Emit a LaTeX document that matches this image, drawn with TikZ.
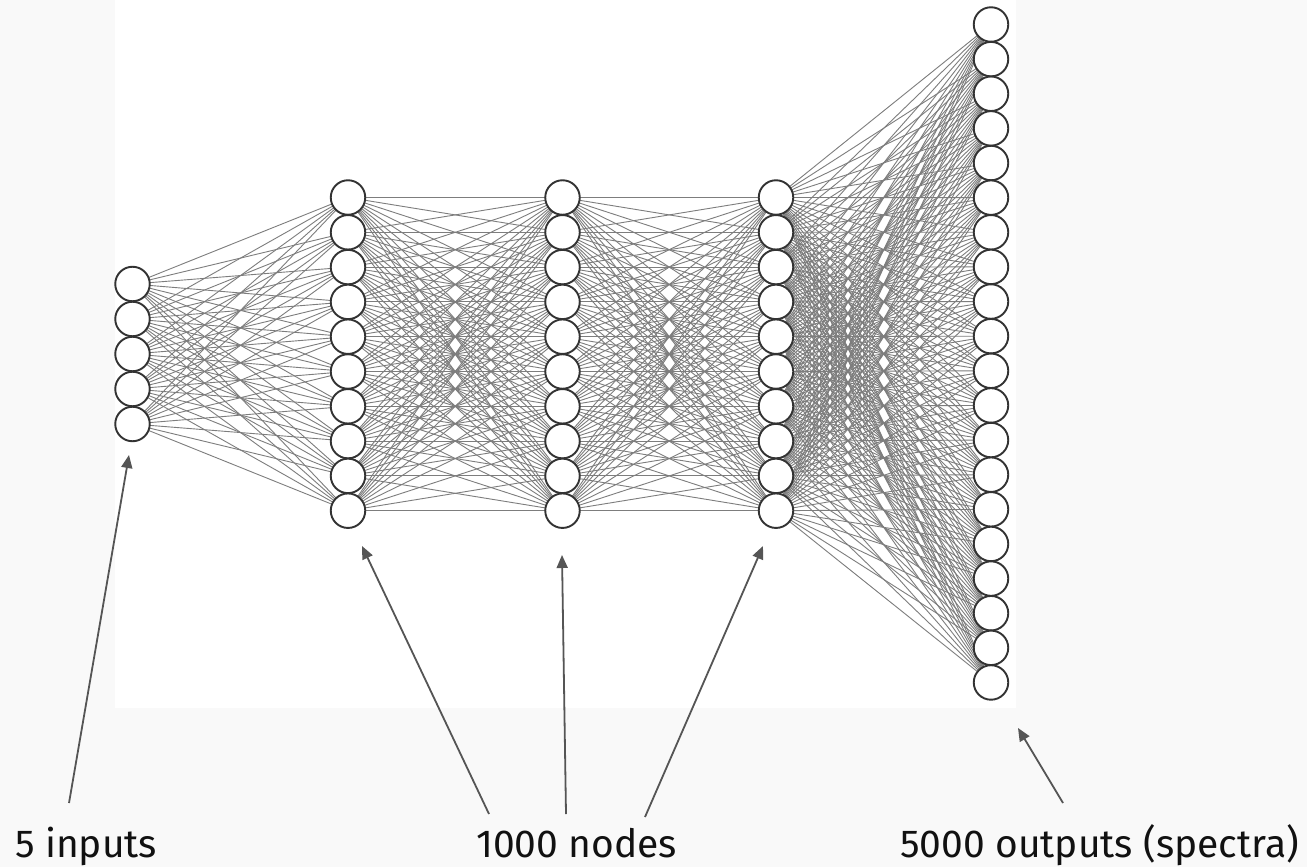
\documentclass[tikz,border=0pt]{standalone}
\usepackage{fontspec}
\setmainfont{Fira Sans}
\usetikzlibrary{arrows.meta,backgrounds}
\definecolor{pagebg}{RGB}{249,249,249}
\definecolor{connc}{RGB}{125,125,125}
\definecolor{circc}{RGB}{51,51,51}
\definecolor{arrc}{RGB}{85,85,85}
\definecolor{txtc}{RGB}{17,17,17}
\begin{document}
\begin{tikzpicture}[x=1pt,y=-1pt,
  neuron/.style={circle,draw=circc,fill=white,line width=1.9pt,minimum size=34.5pt,inner sep=0pt},
  conn/.style={draw=connc,line width=0.9pt},
  pointer/.style={draw=arrc,line width=1.8pt,-{Triangle[length=13pt,width=11pt]}},
  label/.style={font=\fontsize{39}{47}\selectfont,text=txtc,anchor=base west,inner sep=0pt}]
\useasboundingbox (0,0) rectangle (1307,867);
\begin{scope}[on background layer]
  \fill[pagebg] (0,0) rectangle (1307,867);
  \fill[white] (115,0) rectangle (1016,708);
\end{scope}
% layers
\foreach \i in {1,...,5} { \node[neuron] (A\i) at (132.5,{284+35*(\i-1)}) {}; }
\foreach \i in {1,...,10} { \node[neuron] (B\i) at (348,{197.5+34.8*(\i-1)}) {}; }
\foreach \i in {1,...,10} { \node[neuron] (C\i) at (562.5,{197.5+34.8*(\i-1)}) {}; }
\foreach \i in {1,...,10} { \node[neuron] (D\i) at (776,{197.5+34.8*(\i-1)}) {}; }
\foreach \i in {1,...,20} { \node[neuron] (E\i) at (991,{24.5+34.63*(\i-1)}) {}; }
% connectors
\begin{scope}[on background layer]
  \foreach \i in {1,...,5} \foreach \j in {1,...,10} { \draw[conn] (A\i.center) -- (B\j.center); }
  \foreach \i in {1,...,10} \foreach \j in {1,...,10} { \draw[conn] (B\i.center) -- (C\j.center); }
  \foreach \i in {1,...,10} \foreach \j in {1,...,10} { \draw[conn] (C\i.center) -- (D\j.center); }
  \foreach \i in {1,...,10} \foreach \j in {1,...,20} { \draw[conn] (D\i.center) -- (E\j.center); }
\end{scope}
% labels
\node[label] (tin) at (15,857) {5 inputs};
\node[label] (tnodes) at (476,857) {1000 nodes};
\node[label] (tout) at (900,857) {5000 outputs (spectra)};
% pointer ends
\coordinate (p1s) at (69,803);   \coordinate (p1e) at (129,455);
\coordinate (p2s) at (489,814);  \coordinate (p2e) at (362,546);
\coordinate (p3s) at (566,814);  \coordinate (p3e) at (562,555);
\coordinate (p4s) at (645,817);  \coordinate (p4e) at (763,546);
\coordinate (p5s) at (1063,803); \coordinate (p5e) at (1018,728);
\draw[pointer] (p1s) -- (p1e);
\draw[pointer] (p2s) -- (p2e);
\draw[pointer] (p3s) -- (p3e);
\draw[pointer] (p4s) -- (p4e);
\draw[pointer] (p5s) -- (p5e);
\end{tikzpicture}
\end{document}
